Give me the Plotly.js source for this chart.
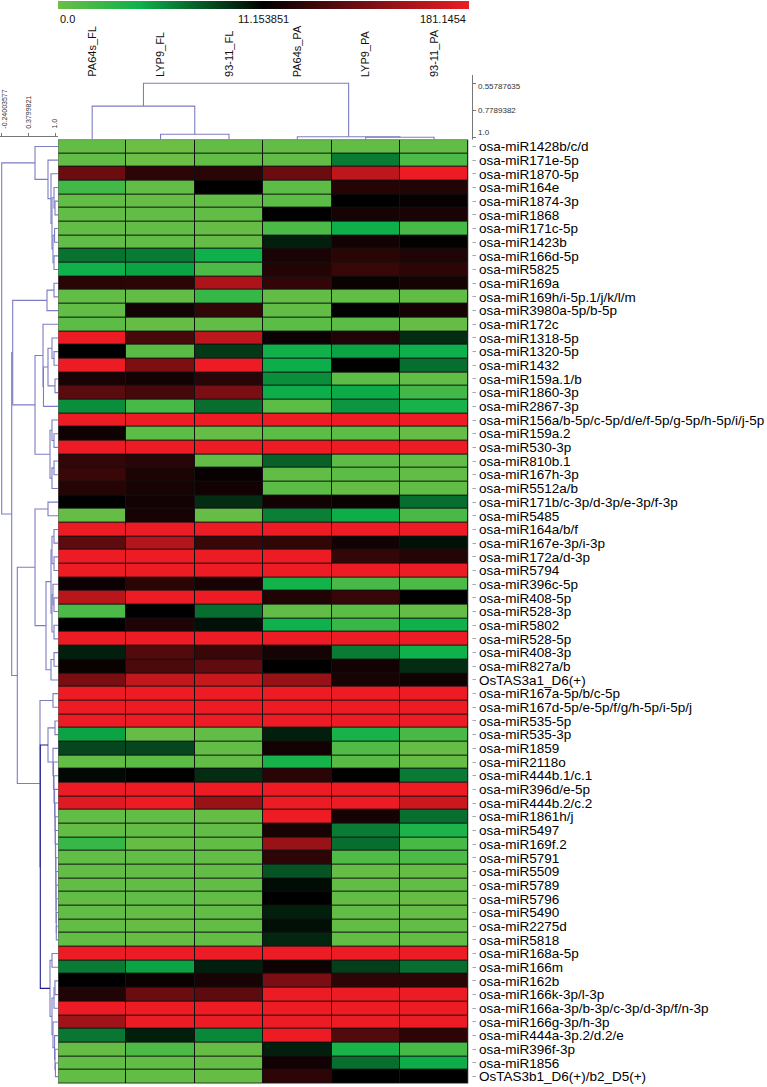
<!DOCTYPE html>
<html><head><meta charset="utf-8">
<script src="https://cdn.plot.ly/plotly-3.0.1.min.js"></script>
<style>html,body{margin:0;padding:0;background:#fff}#chart{width:767px;height:1087px}</style>
</head><body><div id="chart"></div>
<script>
const samples = ['PA64s_FL','LYP9_FL','93-11_FL','PA64s_PA','LYP9_PA','93-11_PA'];
const genes = ['osa-miR1428b/c/d','osa-miR171e-5p','osa-miR1870-5p','osa-miR164e','osa-miR1874-3p','osa-miR1868','osa-miR171c-5p','osa-miR1423b','osa-miR166d-5p','osa-miR5825','osa-miR169a','osa-miR169h/i-5p.1/j/k/l/m','osa-miR3980a-5p/b-5p','osa-miR172c','osa-miR1318-5p','osa-miR1320-5p','osa-miR1432','osa-miR159a.1/b','osa-miR1860-3p','osa-miR2867-3p','osa-miR156a/b-5p/c-5p/d/e/f-5p/g-5p/h-5p/i/j-5p','osa-miR159a.2','osa-miR530-3p','osa-miR810b.1','osa-miR167h-3p','osa-miR5512a/b','osa-miR171b/c-3p/d-3p/e-3p/f-3p','osa-miR5485','osa-miR164a/b/f','osa-miR167e-3p/i-3p','osa-miR172a/d-3p','osa-miR5794','osa-miR396c-5p','osa-miR408-5p','osa-miR528-3p','osa-miR5802','osa-miR528-5p','osa-miR408-3p','osa-miR827a/b','OsTAS3a1_D6(+)','osa-miR167a-5p/b/c-5p','osa-miR167d-5p/e-5p/f/g/h-5p/i-5p/j','osa-miR535-5p','osa-miR535-3p','osa-miR1859','osa-miR2118o','osa-miR444b.1/c.1','osa-miR396d/e-5p','osa-miR444b.2/c.2','osa-miR1861h/j','osa-miR5497','osa-miR169f.2','osa-miR5791','osa-miR5509','osa-miR5789','osa-miR5796','osa-miR5490','osa-miR2275d','osa-miR5818','osa-miR168a-5p','osa-miR166m','osa-miR162b','osa-miR166k-3p/l-3p','osa-miR166a-3p/b-3p/c-3p/d-3p/f/n-3p','osa-miR166g-3p/h-3p','osa-miR444a-3p.2/d.2/e','osa-miR396f-3p','osa-miR1856','OsTAS3b1_D6(+)/b2_D5(+)'];

const PA64s_FL = [0.5,0.5,87,2,0.5,0.5,0.5,0.5,6.8,4.3, 41,0.5,0.5,0.8,181,11.2,181,30,76,5.8, 181,22,181,48,53,37,11.2,0.3,181,78, 181,181,19,144,1.5,11.2,181,10,18,97, 181,181,181,5,8.5,0.5,10.8,181,172,0.5, 0.5,2.5,0.5,0.5,0.5,0.5,0.5,0.5,0.5,181, 6.5,11.2,35,181,126,6.7,0.3,0.5,0.5];
const LYP9_FL = [0,0,44,0.5,0.3,0.5,0.5,0.5,6.5,5, 44,0.5,24,0.3,63,1,101,24,61,1.8, 181,0.8,181,40,31,28,25,28,181,139, 181,181,41,181,11.2,34,181,70,66,150, 181,181,181,0.3,8.5,0.8,11.2,181,181,0.5, 0.5,0.3,0.5,0.5,0.5,0.5,0.3,0.3,0.3,181, 5,18,87,181,181,10,1.5,0.5,0.5];
const FL_93_11 = [0.5,0.5,41,11.2,0.5,0.5,0.3,0.3,4.5,1.5, 135,2.5,46,0.5,147,9,181,40,99,7, 181,0.3,181,0.5,17,25,9.5,0.3,181,53, 181,181,28,181,7,10.5,181,53,80,154, 181,181,181,0.5,0.5,0.5,9.5,181,121,0.3, 0.5,0.5,0.5,0.5,0.5,0.5,0.5,0.5,0.5,181, 10,28,78,181,181,6,0.3,0.3,0.3];
const PA64s_PA = [0.5,0.5,87,0.7,0.8,11.2,1.5,10,30,36, 47,0.5,0.5,0.8,19,4.3,4.6,5.8,4.6,0.8, 181,0.8,181,7.5,0.5,0.8,25,6.3,181,46, 181,181,4.2,34,0.5,4.4,181,27,11.2,119, 181,181,181,10,25,4,41,181,181,181, 28,121,44,8,10.7,11.2,10,10.6,9.7,181, 22,99,181,181,181,181,10,25,44];
const LYP9_PA = [0.5,6.5,147,38,11.2,27,4.5,24,41,53, 18,0.5,11.2,0.8,34,5,11.2,0.8,4.7,5.5, 181,0.8,181,0.8,0.8,0.3,18,4.6,181,24, 48,181,1.7,50,0.8,2.5,181,6.5,25,28, 181,181,181,4,1.2,1,11.2,181,181,26, 6.5,7,1.3,0.3,0.5,0.5,0.5,0.5,0.5,181, 8.8,44,181,181,181,70,3.9,7,11.2];
const PA_93_11 = [0.5,1.5,181,36,16,29,1.8,13,33,44, 26,0.5,26,0.3,9.5,4.5,7,0.5,2,4, 181,0.3,181,0.5,0.5,0.5,7,1.7,181,10.5, 37,181,1.5,11.2,0.3,4.3,181,4.4,9.5,21, 181,181,181,1.7,0.3,0.3,6.5,181,157,7, 3.8,1.8,1.5,0.3,0.5,0.3,0.3,0.5,0.5,181, 7,41,181,181,181,44,1.8,4.6,11.2];

const scaleMin = 0.0, scaleMid = 11.153851, scaleMax = 181.1454;

// row dendrogram: [similarity, left, right(, 'dark')], leaves = row index
const rowTree = [-0.24003577,
  [0.535, 0, [0.837, 1, [0.907, 2, [0.93, [0.977, 3, [1.0, 4, 5]], [0.953, [0.99, 6, 7], [0.977, 8, 9]]]]]],
  [-0.007,
    [0.016,
      [0.814, [0.977, 10, 11], 12],
      [0.535,
        [0.721, 13, [0.732, [0.837, [0.93, 14, [0.977, 15, 16]], [1.0, 17, 18]], 19]],
        [0.884, [0.93, 20, [0.977, 21, 22]], [0.93, [0.977, 23, 24], 25]]]],
    [0.123,
      [0.535,
        [0.837, 26, 27],
        [0.791,
          [0.907, [0.93, [0.977, 28, 29], [0.977, 30, 31]], [0.93, [0.953, 32, [0.977, 33, 34]], [0.977, 35, 36]]],
          [0.907, [0.977, 37, 38], 39]]],
      [0.651,
        [0.953, 40, 41],
        [0.658,
          [0.837, [1.0, 42, 43],
            [0.953, 44, [0.965, 45, [0.977, 46, [0.99, 47, [1.0, 48, [1.005, 49, [1.01, 50, [1.015, 51, [1.02, 52, [1.02, 53, [1.025, 54, [1.025, 55, [1.03, 56, [1.03, 57, 58]]]]]]]]]]]]]]],
          [0.884, [0.93, 59, 60],
            [0.93, [0.977, [1.0, 61, 62], 63], [0.953, 64, [0.99, 65, [1.0, 66, [1.01, 67, 68]]]]]],
          'dark']]]]];

const colTree = [0.55787635, [0.744, 0, [0.973, 1, 2]], [0.994, 3, [0.998, 4, 5]]];

const rowScaleTicks = [-0.24003577, 0.3799821, 1.0];
const rowScaleText = ['-0.24003577', '0.3799821', '1.0'];
const colScaleTicks = [0.55787635, 0.7789382, 1.0];
const colScaleText = ['0.55787635', '0.7789382', '1.0'];

// ---------- build ----------
const W = 767, H = 1087;
const px = v => v / W, py = v => 1 - v / H;
const FONT = "Arial, 'Liberation Sans', sans-serif";

function toScale(v) {
  if (v <= scaleMid) return 0.5 * (v - scaleMin) / (scaleMid - scaleMin);
  return Math.min(1, 0.5 + 0.5 * (v - scaleMid) / (scaleMax - scaleMid));
}
const cols = [PA64s_FL, LYP9_FL, FL_93_11, PA64s_PA, LYP9_PA, PA_93_11];
const z = genes.map((g, i) => cols.map(c => toScale(c[i])));

const colorscale = [
  [0, 'rgb(108,190,69)'],
  [0.2, 'rgb(13,177,75)'],
  [0.5, 'rgb(0,0,0)'],
  [1, 'rgb(237,28,36)']
];

function walk(node, leafH, segs) {
  if (typeof node === 'number') return {pos: node, h: leafH};
  const a = walk(node[1], leafH, segs), b = walk(node[2], leafH, segs);
  segs.push({h: node[0], a, b, dark: node[3] === 'dark'});
  return {pos: (a.pos + b.pos) / 2, h: node[0]};
}

const rowRange = [-0.2795, 1.0698];
const colRange = [1.0171, 0.4902];
const rowSegs = []; walk(rowTree, rowRange[1], rowSegs);
const colSegs = []; walk(colTree, colRange[0], colSegs);

function segTrace(segs, dark, horizontal, xa, ya, color) {
  const xs = [], ys = [];
  segs.filter(s => s.dark === dark).forEach(s => {
    if (horizontal) {
      xs.push(s.a.h, s.h, s.h, s.b.h, null);
      ys.push(s.a.pos, s.a.pos, s.b.pos, s.b.pos, null);
    } else {
      xs.push(s.a.pos, s.a.pos, s.b.pos, s.b.pos, null);
      ys.push(s.a.h, s.h, s.h, s.b.h, null);
    }
  });
  return {type: 'scatter', mode: 'lines', x: xs, y: ys, xaxis: xa, yaxis: ya,
    line: {color: color, width: 1.1}, hoverinfo: 'skip', showlegend: false};
}

const lineCol = 'rgb(125,125,195)';
const traces = [
  {type: 'heatmap', z: z, x: samples.map((s, i) => i), y: genes.map((g, i) => i),
   zmin: 0, zmax: 1, colorscale: colorscale, xgap: 1, ygap: 1, hoverinfo: 'skip',
   colorbar: {orientation: 'h', thickness: 8, thicknessmode: 'pixels', len: 411, lenmode: 'pixels',
     x: px(57.5), xanchor: 'left', y: py(1), yanchor: 'top', xpad: 0, ypad: 0,
     outlinewidth: 0, showticklabels: false, ticks: ''}},
  segTrace(rowSegs, false, true, 'x2', 'y', lineCol),
  segTrace(rowSegs, true, true, 'x2', 'y', 'rgb(30,30,140)'),
  segTrace(colSegs, false, false, 'x', 'y3', lineCol)
];

const annotations = [
  {text: '0.0', x: px(58), xanchor: 'left', y: py(19), yanchor: 'middle'},
  {text: '11.153851', x: px(263), xanchor: 'center', y: py(19), yanchor: 'middle'},
  {text: '181.1454', x: px(468), xanchor: 'right', y: py(19), yanchor: 'middle'}
].map(a => Object.assign(a, {xref: 'paper', yref: 'paper', showarrow: false, font: {family: FONT, size: 11, color: '#111'}}));
samples.forEach((s, i) => annotations.push({text: s, x: i, xref: 'x', y: py(79), yref: 'paper',
  xanchor: 'center', yanchor: 'bottom', textangle: -90, showarrow: false,
  font: {family: FONT, size: 11, color: '#111'}}));
rowScaleTicks.forEach((v, i) => annotations.push({text: rowScaleText[i], x: v, xref: 'x2',
  y: py(131), yref: 'paper', xanchor: 'center', yanchor: 'bottom', textangle: -90, showarrow: false,
  xshift: i === 0 ? 2.5 : (i === 2 ? -1.5 : 0),
  font: {family: FONT, size: 7, color: '#333'}}));
const colScaleY = [86, 110, 133];
colScaleTicks.forEach((v, i) => annotations.push({text: colScaleText[i], x: px(476.5), xref: 'paper',
  y: py(colScaleY[i]), yref: 'paper', xanchor: 'left', yanchor: 'middle', showarrow: false,
  font: {family: FONT, size: 8, color: '#333'}}));

const layout = {
  width: W, height: H, margin: {l: 0, r: 0, t: 0, b: 0},
  paper_bgcolor: '#fff', plot_bgcolor: 'rgba(0,0,0,0)', showlegend: false,
  font: {family: FONT},
  xaxis: {domain: [px(58), px(468.3)], range: [-0.5, 5.5], anchor: 'y', showticklabels: false,
    ticks: '', showgrid: false, zeroline: false, fixedrange: true},
  yaxis: {domain: [py(1083.5), py(139.6)], range: [68.5, -0.5], anchor: 'x', side: 'right',
    tickmode: 'array', tickvals: genes.map((g, i) => i), ticktext: genes,
    tickfont: {family: FONT, size: 13.5, color: '#000'}, ticks: 'outside', ticklen: 7, tickwidth: 1,
    tickcolor: '#aaa', showgrid: false, zeroline: false, fixedrange: true},
  xaxis2: {domain: [0, px(58)], range: rowRange, anchor: 'free', position: py(136), side: 'top',
    tickmode: 'array', tickvals: rowScaleTicks, showticklabels: false,
    ticks: 'outside', ticklen: 3, tickcolor: '#777',
    showline: true, linecolor: '#777', linewidth: 1, showgrid: false, zeroline: false, fixedrange: true},
  yaxis3: {domain: [py(139.6), py(75)], range: colRange, anchor: 'free', position: px(471.7), side: 'right',
    tickmode: 'array', tickvals: colScaleTicks, showticklabels: false,
    ticks: 'outside', ticklen: 3, tickcolor: '#777',
    showline: true, linecolor: '#777', linewidth: 1, showgrid: false, zeroline: false, fixedrange: true},
  shapes: [
    {type: 'rect', xref: 'x', yref: 'y', x0: -0.5, x1: 5.5, y0: -0.5, y1: 68.5,
     fillcolor: '#111', line: {width: 0}, layer: 'below'},
    {type: 'rect', xref: 'x', yref: 'y', x0: -0.5, x1: 5.5, y0: -0.5, y1: 68.5,
     fillcolor: 'rgba(0,0,0,0)', line: {width: 1, color: '#666'}, layer: 'above'},
    {type: 'rect', xref: 'paper', yref: 'paper', x0: px(469), x1: px(472.4), y0: py(1084), y1: py(139),
     fillcolor: '#fff', line: {width: 0}, layer: 'above'}
  ],
  annotations: annotations
};

Plotly.newPlot('chart', traces, layout, {displayModeBar: false, staticPlot: true});
</script></body></html>
